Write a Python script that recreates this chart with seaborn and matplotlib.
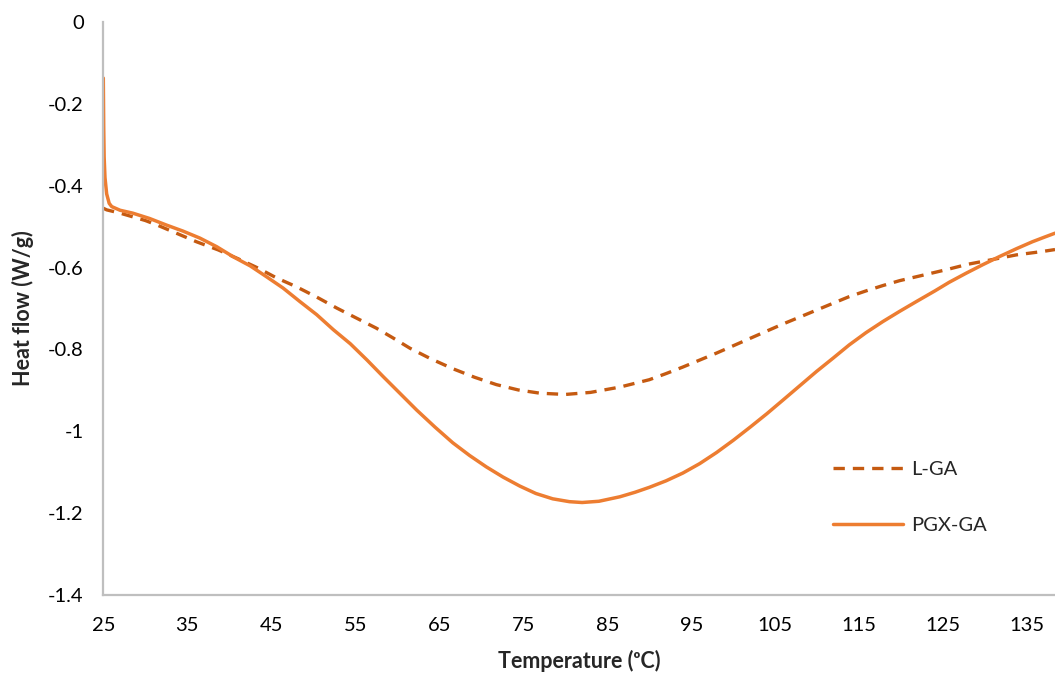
import matplotlib
matplotlib.use("Agg")
import matplotlib.pyplot as plt
import seaborn as sns
import pandas as pd

# DSC heat-flow curves
pgx_temp = [25.0, 25.05, 25.1, 25.2, 25.4, 25.7, 26.0, 27.0, 28.5, 30.5, 32.5, 34.5,
            36.5, 38.5, 40.5, 42.5, 44.4, 46.4, 48.4, 50.4, 52.4, 54.4, 56.4, 58.3,
            60.3, 62.3, 64.5, 66.6, 68.6, 70.6, 72.6, 74.6, 76.5, 78.5, 80.5, 82.0,
            84.0, 86.5, 88.3, 90.0, 92.0, 94.0, 96.0, 98.0, 100.0, 102.0, 104.0,
            105.9, 107.9, 109.9, 111.9, 113.8, 115.8, 117.8, 119.8, 121.8, 124.0,
            125.7, 127.7, 129.7, 131.7, 133.7, 135.6, 137.0, 138.3]
pgx_flow = [-0.137, -0.26, -0.33, -0.38, -0.42, -0.443, -0.451, -0.460, -0.467, -0.480,
            -0.496, -0.511, -0.528, -0.549, -0.574, -0.596, -0.622, -0.650, -0.683,
            -0.715, -0.752, -0.786, -0.826, -0.866, -0.907, -0.948, -0.990, -1.028,
            -1.059, -1.087, -1.112, -1.134, -1.152, -1.165, -1.172, -1.174, -1.171,
            -1.160, -1.149, -1.137, -1.121, -1.102, -1.079, -1.052, -1.022, -0.990,
            -0.957, -0.924, -0.889, -0.854, -0.821, -0.789, -0.759, -0.732, -0.707,
            -0.683, -0.657, -0.636, -0.614, -0.593, -0.573, -0.554, -0.537, -0.526,
            -0.516]

lga_temp = [25.0, 25.4, 27.0, 28.5, 30.0, 31.4, 33.7, 36.1, 38.7, 41.0, 43.4, 45.6,
            48.0, 50.4, 52.8, 55.0, 57.5, 59.5, 61.5, 63.9, 66.6, 69.2, 71.8, 74.4,
            77.0, 80.0, 83.0, 86.5, 90.0, 92.0, 94.0, 96.0, 98.0, 100.0, 102.0, 104.0,
            105.9, 107.9, 109.9, 111.9, 113.8, 115.8, 117.8, 119.8, 122.5, 125.4,
            127.9, 130.7, 133.7, 136.7, 138.3]
lga_flow = [-0.455, -0.459, -0.467, -0.476, -0.485, -0.496, -0.516, -0.537, -0.557,
            -0.578, -0.601, -0.625, -0.647, -0.672, -0.699, -0.722, -0.748, -0.772,
            -0.797, -0.822, -0.847, -0.868, -0.886, -0.899, -0.907, -0.910, -0.905,
            -0.892, -0.874, -0.859, -0.843, -0.826, -0.809, -0.791, -0.773, -0.755,
            -0.738, -0.721, -0.704, -0.687, -0.671, -0.657, -0.644, -0.632, -0.619,
            -0.605, -0.592, -0.581, -0.569, -0.561, -0.556]

x_ticks = [25, 35, 45, 55, 65, 75, 85, 95, 105, 115, 125, 135]
y_ticks = [0, -0.2, -0.4, -0.6, -0.8, -1.0, -1.2, -1.4]
y_tick_labels = ["0", "-0.2", "-0.4", "-0.6", "-0.8", "-1", "-1.2", "-1.4"]

sns.set_style("white")
plt.rcParams["font.family"] = ["Lato", "DejaVu Sans"]

fig = plt.figure(figsize=(10.55, 6.79), dpi=100)
ax = fig.add_axes([103.3 / 1055, 84 / 679, (1055 - 103.3) / 1055, 573 / 679])

lga = pd.DataFrame({"Temperature": lga_temp, "Heat flow": lga_flow})
pgx = pd.DataFrame({"Temperature": pgx_temp, "Heat flow": pgx_flow})

sns.lineplot(data=lga, x="Temperature", y="Heat flow", ax=ax, sort=False,
             estimator=None, color="#C55A11", linewidth=2.4, label="L-GA")
ax.lines[-1].set_dashes([3.4, 2.4])
sns.lineplot(data=pgx, x="Temperature", y="Heat flow", ax=ax, sort=False,
             estimator=None, color="#ED7D31", linewidth=2.5, label="PGX-GA")

ax.set_xlim(25, 138.3)
ax.set_ylim(-1.4, 0)
ax.set_xticks(x_ticks)
ax.set_yticks(y_ticks)
ax.set_yticklabels(y_tick_labels)

for side in ["top", "right"]:
    ax.spines[side].set_visible(False)
for side in ["left", "bottom"]:
    ax.spines[side].set_color("#BFBFBF")
    ax.spines[side].set_linewidth(1.6)
ax.tick_params(axis="both", which="major", direction="out", length=5, width=1.3,
               color="#BFBFBF", labelsize=14.5, labelcolor="#000000")
ax.tick_params(axis="x", pad=11)
ax.tick_params(axis="y", pad=9)
ax.grid(False)

ax.set_xlabel("Temperature (\u1d52C)", fontsize=15.5, fontweight="bold", labelpad=11)
ax.set_ylabel("Heat flow (W/g)", fontsize=15.5, fontweight="bold", labelpad=10)

leg = ax.legend(loc="center left", bbox_to_anchor=(833 / 1055, 1 - 497.5 / 679),
                bbox_transform=fig.transFigure, frameon=False, fontsize=14.5,
                handlelength=3.5, handletextpad=0.4, labelspacing=1.9,
                borderpad=0, borderaxespad=0)

fig.savefig("out.png", dpi=100)
